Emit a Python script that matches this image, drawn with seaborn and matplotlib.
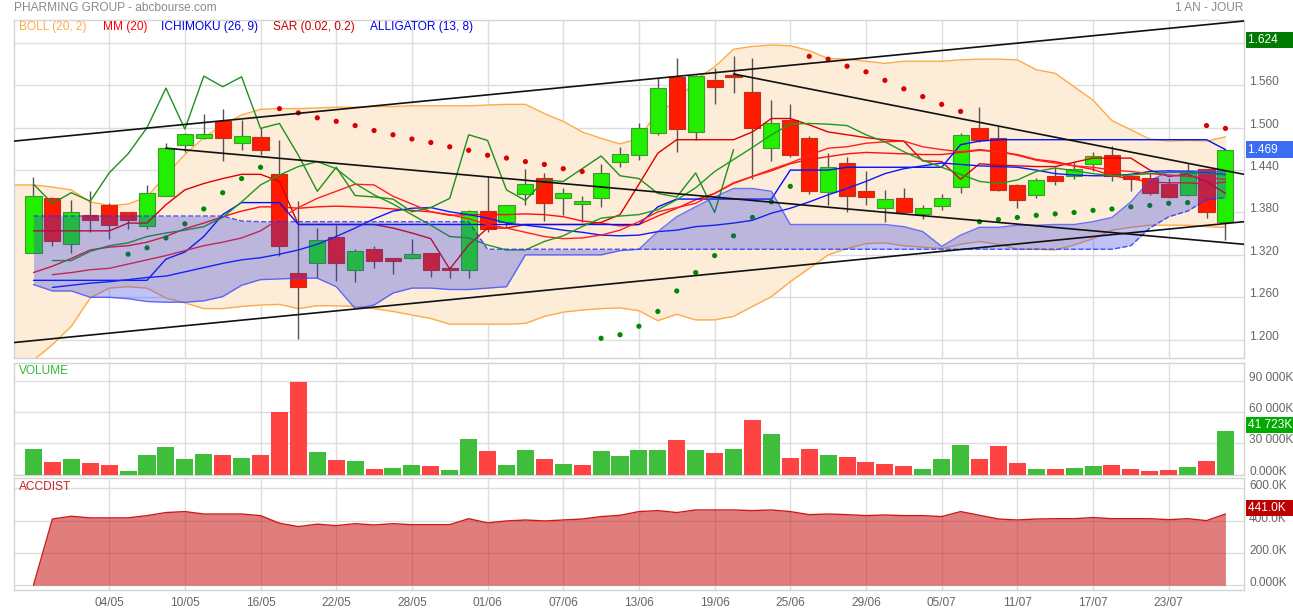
import numpy as np
import matplotlib
matplotlib.use("Agg")
import matplotlib.pyplot as plt
import matplotlib.transforms as mtransforms
import seaborn as sns

# ---------------- data (64 daily sessions) ----------------
date_ticks = [4, 8, 12, 16, 20, 24, 28, 32, 36, 40, 44, 48, 52, 56, 60]
date_labels = ["04/05", "10/05", "16/05", "22/05", "28/05", "01/06", "07/06", "13/06",
               "19/06", "25/06", "29/06", "05/07", "11/07", "17/07", "23/07"]

opens = [1.323, 1.400, 1.336, 1.376, 1.390, 1.380, 1.361, 1.403, 1.475, 1.486,
         1.510, 1.478, 1.487, 1.434, 1.295, 1.309, 1.345, 1.298, 1.329, 1.316,
         1.316, 1.322, 1.301, 1.298, 1.382, 1.366, 1.406, 1.429, 1.400, 1.392,
         1.400, 1.451, 1.461, 1.492, 1.572, 1.494, 1.567, 1.575, 1.550, 1.471,
         1.511, 1.485, 1.409, 1.450, 1.410, 1.386, 1.400, 1.378, 1.389, 1.416,
         1.499, 1.485, 1.419, 1.405, 1.432, 1.431, 1.448, 1.462, 1.432, 1.429,
         1.420, 1.405, 1.441, 1.366]
highs = [1.430, 1.402, 1.398, 1.410, 1.393, 1.381, 1.419, 1.478, 1.493, 1.520,
         1.526, 1.511, 1.499, 1.483, 1.396, 1.358, 1.362, 1.328, 1.332, 1.316,
         1.342, 1.323, 1.303, 1.384, 1.432, 1.391, 1.442, 1.436, 1.415, 1.404,
         1.449, 1.472, 1.507, 1.571, 1.599, 1.575, 1.585, 1.601, 1.598, 1.539,
         1.534, 1.488, 1.464, 1.458, 1.439, 1.412, 1.415, 1.391, 1.406, 1.492,
         1.529, 1.503, 1.421, 1.429, 1.444, 1.452, 1.465, 1.474, 1.433, 1.436,
         1.429, 1.450, 1.442, 1.470]
lows = [1.323, 1.333, 1.323, 1.353, 1.342, 1.357, 1.357, 1.403, 1.466, 1.484,
        1.453, 1.469, 1.462, 1.318, 1.201, 1.287, 1.283, 1.282, 1.302, 1.293,
        1.314, 1.289, 1.288, 1.288, 1.353, 1.359, 1.391, 1.368, 1.377, 1.367,
        1.388, 1.445, 1.454, 1.490, 1.465, 1.483, 1.533, 1.549, 1.427, 1.453,
        1.459, 1.406, 1.390, 1.380, 1.391, 1.367, 1.379, 1.371, 1.384, 1.408,
        1.480, 1.410, 1.387, 1.400, 1.419, 1.427, 1.439, 1.425, 1.411, 1.405,
        1.400, 1.404, 1.372, 1.341]
closes = [1.404, 1.339, 1.380, 1.370, 1.362, 1.369, 1.407, 1.471, 1.491, 1.491,
          1.485, 1.488, 1.468, 1.333, 1.275, 1.341, 1.309, 1.325, 1.311, 1.311,
          1.321, 1.298, 1.299, 1.382, 1.356, 1.390, 1.420, 1.393, 1.408, 1.396,
          1.436, 1.463, 1.500, 1.556, 1.498, 1.573, 1.558, 1.572, 1.499, 1.506,
          1.461, 1.410, 1.444, 1.404, 1.402, 1.399, 1.381, 1.387, 1.400, 1.490,
          1.482, 1.412, 1.397, 1.426, 1.424, 1.442, 1.460, 1.432, 1.428, 1.407,
          1.402, 1.436, 1.380, 1.469]

# Bollinger (20, 2) - starts one session before the first candle
boll_upper = [1.419, 1.419, 1.416, 1.412, 1.395, 1.390, 1.392, 1.402, 1.433, 1.462,
              1.486, 1.504, 1.518, 1.526, 1.527, 1.527, 1.528, 1.529, 1.529, 1.530,
              1.530, 1.531, 1.531, 1.531, 1.531, 1.532, 1.533, 1.533, 1.520, 1.509,
              1.494, 1.485, 1.477, 1.485, 1.523, 1.536, 1.568, 1.586, 1.611, 1.615,
              1.617, 1.616, 1.609, 1.598, 1.597, 1.594, 1.591, 1.594, 1.594, 1.594,
              1.596, 1.597, 1.597, 1.596, 1.582, 1.577, 1.558, 1.539, 1.510, 1.497,
              1.484, 1.481, 1.482, 1.481, 1.487]
boll_lower = [1.169, 1.171, 1.193, 1.219, 1.259, 1.273, 1.275, 1.273, 1.259, 1.252,
              1.244, 1.244, 1.247, 1.249, 1.250, 1.244, 1.248, 1.248, 1.247, 1.244,
              1.240, 1.235, 1.230, 1.222, 1.222, 1.222, 1.222, 1.223, 1.233, 1.239,
              1.242, 1.244, 1.245, 1.241, 1.227, 1.236, 1.228, 1.228, 1.233, 1.247,
              1.261, 1.282, 1.301, 1.320, 1.329, 1.336, 1.337, 1.333, 1.331, 1.329,
              1.335, 1.339, 1.335, 1.328, 1.328, 1.327, 1.334, 1.343, 1.355, 1.359,
              1.362, 1.362, 1.362, 1.360, 1.359]
mm20 = [1.295, 1.304, 1.315, 1.327, 1.331, 1.333, 1.338, 1.346, 1.357, 1.365,
        1.374, 1.382, 1.388, 1.388, 1.386, 1.388, 1.389, 1.388, 1.387, 1.385,
        1.383, 1.381, 1.376, 1.377, 1.377, 1.377, 1.378, 1.377, 1.374, 1.368,
        1.365, 1.361, 1.363, 1.375, 1.386, 1.398, 1.407, 1.422, 1.431, 1.439,
        1.449, 1.455, 1.459, 1.463, 1.465, 1.464, 1.463, 1.462, 1.462, 1.465,
        1.468, 1.466, 1.462, 1.455, 1.452, 1.446, 1.441, 1.432, 1.428, 1.423,
        1.422, 1.422, 1.420, 1.423]

# Ichimoku (26, 9)
tenkan = [1.354, 1.354, 1.354, 1.354, 1.354, 1.365, 1.365, 1.391, 1.412, 1.421,
          1.428, 1.434, 1.434, 1.424, 1.363, 1.363, 1.363, 1.363, 1.363, 1.358,
          1.351, 1.343, 1.300, 1.334, 1.358, 1.358, 1.363, 1.363, 1.363, 1.363,
          1.366, 1.377, 1.420, 1.464, 1.483, 1.483, 1.483, 1.483, 1.494, 1.513,
          1.513, 1.504, 1.494, 1.490, 1.486, 1.483, 1.481, 1.453, 1.452, 1.427,
          1.449, 1.447, 1.446, 1.445, 1.445, 1.451, 1.457, 1.457, 1.457, 1.440,
          1.431, 1.434, 1.424, 1.407]
kijun = [1.284, 1.284, 1.284, 1.284, 1.284, 1.284, 1.284, 1.314, 1.324, 1.346,
         1.377, 1.394, 1.394, 1.394, 1.363, 1.363, 1.363, 1.363, 1.363, 1.363,
         1.363, 1.363, 1.363, 1.363, 1.363, 1.363, 1.363, 1.363, 1.363, 1.363,
         1.363, 1.363, 1.363, 1.388, 1.399, 1.399, 1.399, 1.399, 1.399, 1.399,
         1.440, 1.440, 1.440, 1.444, 1.444, 1.444, 1.444, 1.444, 1.444, 1.476,
         1.481, 1.483, 1.483, 1.483, 1.483, 1.483, 1.483, 1.483, 1.483, 1.483,
         1.483, 1.483, 1.483, 1.469]
span_a = [1.278, 1.269, 1.269, 1.260, 1.260, 1.258, 1.254, 1.253, 1.253, 1.255,
          1.261, 1.277, 1.285, 1.286, 1.287, 1.287, 1.275, 1.244, 1.249, 1.266,
          1.273, 1.273, 1.271, 1.271, 1.273, 1.275, 1.320, 1.320, 1.320, 1.320,
          1.320, 1.326, 1.328, 1.353, 1.374, 1.388, 1.402, 1.414, 1.414, 1.410,
          1.363, 1.363, 1.363, 1.363, 1.363, 1.363, 1.360, 1.353, 1.332, 1.348,
          1.359, 1.359, 1.362, 1.362, 1.363, 1.363, 1.367, 1.373, 1.395, 1.425,
          1.438, 1.439, 1.439, 1.438]
span_b = [1.375, 1.375, 1.375, 1.375, 1.375, 1.375, 1.375, 1.375, 1.375, 1.375,
          1.375, 1.368, 1.367, 1.367, 1.367, 1.367, 1.367, 1.367, 1.367, 1.367,
          1.367, 1.367, 1.367, 1.367, 1.328, 1.328, 1.328, 1.328, 1.328, 1.328,
          1.328, 1.328, 1.328, 1.328, 1.328, 1.328, 1.328, 1.328, 1.328, 1.328,
          1.328, 1.328, 1.328, 1.328, 1.328, 1.328, 1.328, 1.328, 1.328, 1.328,
          1.328, 1.328, 1.328, 1.328, 1.328, 1.328, 1.328, 1.328, 1.333, 1.358,
          1.374, 1.382, 1.398, 1.401]

# Alligator (13, 8) - lines start on the second session
jaw = [1.274, 1.277, 1.280, 1.282, 1.285, 1.288, 1.290, 1.296, 1.302,
       1.308, 1.313, 1.316, 1.321, 1.327, 1.335, 1.346, 1.358, 1.371, 1.382,
       1.386, 1.387, 1.381, 1.377, 1.372, 1.365, 1.362, 1.359, 1.355, 1.352,
       1.348, 1.347, 1.348, 1.353, 1.355, 1.360, 1.362, 1.365, 1.369, 1.379,
       1.386, 1.395, 1.405, 1.414, 1.424, 1.435, 1.442, 1.446, 1.450, 1.448,
       1.446, 1.445, 1.444, 1.440, 1.435, 1.433, 1.432, 1.432, 1.434, 1.438,
       1.439, 1.438, 1.436, 1.434]
teeth = [1.292, 1.295, 1.299, 1.301, 1.307, 1.313, 1.319, 1.326, 1.333,
         1.338, 1.344, 1.354, 1.371, 1.387, 1.400, 1.410, 1.420, 1.419, 1.403,
         1.392, 1.381, 1.377, 1.371, 1.363, 1.358, 1.352, 1.346, 1.343, 1.344,
         1.348, 1.355, 1.367, 1.381, 1.387, 1.393, 1.407, 1.421, 1.431, 1.441,
         1.450, 1.461, 1.471, 1.473, 1.478, 1.480, 1.481, 1.473, 1.469, 1.466,
         1.469, 1.466, 1.461, 1.454, 1.450, 1.446, 1.444, 1.440, 1.438, 1.435,
         1.433, 1.431, 1.429, 1.427]
lips = [1.312, 1.312, 1.325, 1.333, 1.337, 1.346, 1.351, 1.355, 1.360,
        1.373, 1.395, 1.419, 1.433, 1.445, 1.452, 1.442, 1.421, 1.405, 1.392,
        1.377, 1.362, 1.346, 1.344, 1.334, 1.327, 1.327, 1.339, 1.347, 1.360,
        1.372, 1.375, 1.377, 1.384, 1.398, 1.415, 1.438, 1.455, 1.472, 1.490,
        1.505, 1.506, 1.505, 1.503, 1.490, 1.480, 1.466, 1.454, 1.444, 1.434,
        1.424, 1.421, 1.426, 1.438, 1.443, 1.439, 1.435, 1.432, 1.433, 1.435,
        1.437, 1.437, 1.435, 1.433]

# Parabolic SAR (0.02, 0.2): u = above price (red), d = below (green)
sar = [None, None, None, None, None,
       1.321, 1.330, 1.344, 1.364, 1.385, 1.408, 1.428, 1.444,
       1.527, 1.521, 1.514, 1.509, 1.503, 1.496, 1.490, 1.484, 1.479, 1.473,
       1.468, 1.461, 1.457, 1.452, 1.448, 1.442, 1.438,
       1.202, 1.207, 1.219, 1.240, 1.269, 1.295, 1.319, 1.347, 1.373, 1.395, 1.417,
       1.601, 1.597, 1.587, 1.579, 1.567, 1.555, 1.544, 1.533, 1.523,
       1.367, 1.370, 1.373, 1.376, 1.378, 1.380, 1.383, 1.385, 1.388, 1.390, 1.393, 1.394,
       1.503, 1.499]
sar_side = "-----" + "d" * 8 + "u" * 17 + "d" * 11 + "u" * 9 + "d" * 12 + "u" * 2

# trend lines (session, price) pairs
trend_lines = [((-1.03, 1.481), (63.98, 1.651)),
               ((-1.03, 1.196), (63.98, 1.367)),
               ((7.0, 1.471), (63.98, 1.335)),
               ((37.0, 1.576), (63.98, 1.434))]

# volume in thousands, colour = up / down session
volume = [24300, 11800, 15000, 10900, 9600, 3200, 18500, 26200, 15000, 19800,
          18900, 16000, 18500, 59700, 88800, 21700, 14100, 13400, 5400, 6100,
          9600, 8000, 4500, 33900, 22700, 8900, 23300, 14700, 9900, 9300,
          22400, 17900, 23600, 23600, 33200, 23300, 20400, 24300, 52700, 39000,
          16000, 24300, 18500, 17300, 12100, 9900, 8000, 5100, 15000, 28400,
          15300, 27500, 10900, 5800, 5100, 6100, 8000, 8900, 5100, 3800,
          4500, 7700, 13100, 41723]
vol_dir = list("grgrrggggg" "rgrrrgrgrg" "grggrggrgr" "ggg"
               "grgrgrgrrg" "rrrrgggrrr" "grggrrrrgr" "g")

# accumulation / distribution in thousands
accdist = [0, 410, 427, 417, 417, 417, 431, 450, 456, 441,
           441, 441, 431, 384, 363, 378, 369, 381, 373, 381,
           375, 375, 375, 412, 386, 398, 404, 398, 404, 410,
           425, 433, 456, 462, 450, 466, 466, 466, 462, 466,
           456, 437, 441, 437, 431, 435, 431, 431, 425, 456,
           433, 410, 404, 410, 412, 412, 419, 412, 412, 412,
           406, 412, 400, 441]

# ---------------- style ----------------
sns.set_theme(style="whitegrid")
plt.rcParams["font.family"] = ["Liberation Sans", "DejaVu Sans"]
FS = 8.6
GRID = "#dddddd"
LBL = "#666666"

n = len(closes)
idx = np.arange(n)
bb_idx = np.arange(-1, n)
XLIM = (-1.03, 63.98)

W, H = 1293, 612
fig = plt.figure(figsize=(W / 100, H / 100), dpi=100)


def px_axes(left, top, right, bottom):
    return fig.add_axes([left / W, 1 - bottom / H, (right - left) / W, (bottom - top) / H])


ax = px_axes(14, 20, 1244, 358)
ax_v = px_axes(14, 362.7, 1244, 474.7)
ax_a = px_axes(14, 478.3, 1244, 590)

# ---------------- price panel ----------------
ax.fill_between(bb_idx, boll_upper, boll_lower, color="#fcecd8", lw=0, zorder=1)
for band in (boll_upper, boll_lower):
    sns.lineplot(x=bb_idx, y=band, ax=ax, color="#ffab45", lw=1, zorder=2, legend=False)

body_lo = [min(o, c) for o, c in zip(opens, closes)]
body_h = [max(abs(c - o), 0.0016) for o, c in zip(opens, closes)]
up = [c >= o for o, c in zip(opens, closes)]
ax.vlines(idx, lows, highs, color="#5a5050", lw=1, zorder=3)
ax.bar(idx, body_h, bottom=body_lo, width=0.85,
       color=["#22ee00" if u else "#ff1a00" for u in up],
       edgecolor=["#3f9a2c" if u else "#c0301a" for u in up], lw=0.8, zorder=3.5)

line_sets = [
    (idx, mm20, "#ff1010"),
    (idx, tenkan, "#e00000"),
    (idx, kijun, "#0010ff"),
    (idx[1:], jaw, "#0a1aff"),
    (idx[1:], teeth, "#ff2020"),
    (idx[1:], lips, "#1f9a1f"),
    (idx[:n - 26], closes[26:], "#1f8f1f"),   # chikou span
]
for xs, ys, col in line_sets:
    sns.lineplot(x=xs, y=ys, ax=ax, color=col, lw=1, zorder=4, legend=False)

sar_x = [i for i in idx if sar[i] is not None]
sns.scatterplot(x=sar_x, y=[sar[i] for i in sar_x], hue=[sar_side[i] for i in sar_x],
                palette={"u": "#d80000", "d": "#008a00"}, s=14, linewidth=0,
                ax=ax, zorder=4.5, legend=False)

# ichimoku cloud painted over candles, like the original
ax.fill_between(idx, span_a, span_b, color="#2d3ae8", alpha=0.3, lw=0, zorder=5)
sns.lineplot(x=idx, y=span_a, ax=ax, color="#3a48ff", lw=1, alpha=0.75, zorder=5.5, legend=False)
sns.lineplot(x=idx, y=span_b, ax=ax, color="#2030ff", lw=1, alpha=0.8, linestyle="--",
             zorder=5.5, legend=False)

for (x0, y0), (x1, y1) in trend_lines:
    sns.lineplot(x=[x0, x1], y=[y0, y1], ax=ax, color="#111111", lw=1.2, zorder=6, legend=False)

ax.set_ylim(1.1741, 1.6524)
price_ticks = [1.20, 1.26, 1.32, 1.38, 1.44, 1.50, 1.56, 1.62]

# ---------------- volume panel ----------------
sns.barplot(x=idx, y=volume, hue=vol_dir, palette={"g": "#3fbe3c", "r": "#ff4242"},
            width=0.9, dodge=False, saturation=1, linewidth=0, errorbar=None,
            legend=False, ax=ax_v, zorder=3)
ax_v.set_ylim(0, 107350)

# ---------------- accdist panel ----------------
ax_a.fill_between(idx, accdist, 0, color="#c81414", alpha=0.55, lw=0, zorder=2)
sns.lineplot(x=idx, y=accdist, ax=ax_a, color="#cc1a1a", lw=1, zorder=3, legend=False)
ax_a.set_ylim(-29.1, 661.9)

# ---------------- axes cosmetics ----------------
for a, yt in ((ax, price_ticks), (ax_v, [0, 30000, 60000, 90000]), (ax_a, [0, 200, 400, 600])):
    a.set_xlim(*XLIM)
    a.set_xticks(date_ticks)
    a.set_yticks(yt)
    a.set_xlabel("")
    a.set_ylabel("")
    a.set_facecolor("white")
    a.grid(True, color=GRID, lw=1)
    a.set_axisbelow(True)
    a.tick_params(length=0, labelleft=False, labelright=False, labelbottom=False)
    for sp in a.spines.values():
        sp.set_color("#d4d4d4")
        sp.set_linewidth(1)
        sp.set_visible(True)

ax_a.tick_params(labelbottom=True, pad=5)
ax_a.set_xticklabels(date_labels, fontsize=FS, color=LBL)


def right_labels(a, vals, texts, dy=3):
    tr = mtransforms.offset_copy(a.get_yaxis_transform(), fig=fig, x=5, y=dy, units="dots")
    for v, s in zip(vals, texts):
        a.text(1.0, v, s, transform=tr, ha="left", va="center", fontsize=FS,
               color=LBL, clip_on=False)


def tag(a, v, s, fc, dy=0):
    tr = mtransforms.offset_copy(a.get_yaxis_transform(), fig=fig, x=4, y=dy, units="dots")
    a.text(1.0, v, s, transform=tr, ha="left", va="center", fontsize=FS, color="white",
           bbox=dict(boxstyle="square,pad=0.18", fc=fc, ec="none"), clip_on=False, zorder=10)


right_labels(ax, price_ticks[:-1], ["%.3f" % v for v in price_ticks[:-1]])
right_labels(ax_v, [0, 30000, 60000, 90000], ["0.000K", "30 000K", "60 000K", "90 000K"])
right_labels(ax_a, [0, 200, 400, 600], ["0.000K", "200.0K", "400.0K", "600.0K"], dy=2)

tag(ax, 1.624, "1.624     ", "#007a00")
tag(ax, closes[-1], "1.469     ", "#3a6cf4")
tag(ax_v, volume[-1], "41 723K ", "#00aa00", dy=6)
tag(ax_a, accdist[-1], "441.0K   ", "#bb0000", dy=6)

# ---------------- titles / legends ----------------
fig.text(14 / W, 1 - 8 / H, "PHARMING GROUP - abcbourse.com", fontsize=FS, color="#8a8a8a", va="center")
fig.text(1243 / W, 1 - 8 / H, "1 AN - JOUR", fontsize=FS, color="#8a8a8a", va="center", ha="right")

legend_items = [(19, "BOLL (20, 2)", "#ffab45"), (103, "MM (20)", "#ff0000"),
                (161, "ICHIMOKU (26, 9)", "#0000ee"), (273, "SAR (0.02, 0.2)", "#cc0000"),
                (370, "ALLIGATOR (13, 8)", "#0000ee")]
for x0, s, col in legend_items:
    fig.text(x0 / W, 1 - 27 / H, s, fontsize=FS, color=col, va="center")

fig.text(19 / W, 1 - 371 / H, "VOLUME", fontsize=FS, color="#33bb33", va="center")
fig.text(19 / W, 1 - 487 / H, "ACCDIST", fontsize=FS, color="#cc2222", va="center")

fig.savefig("out.png", dpi=100)
